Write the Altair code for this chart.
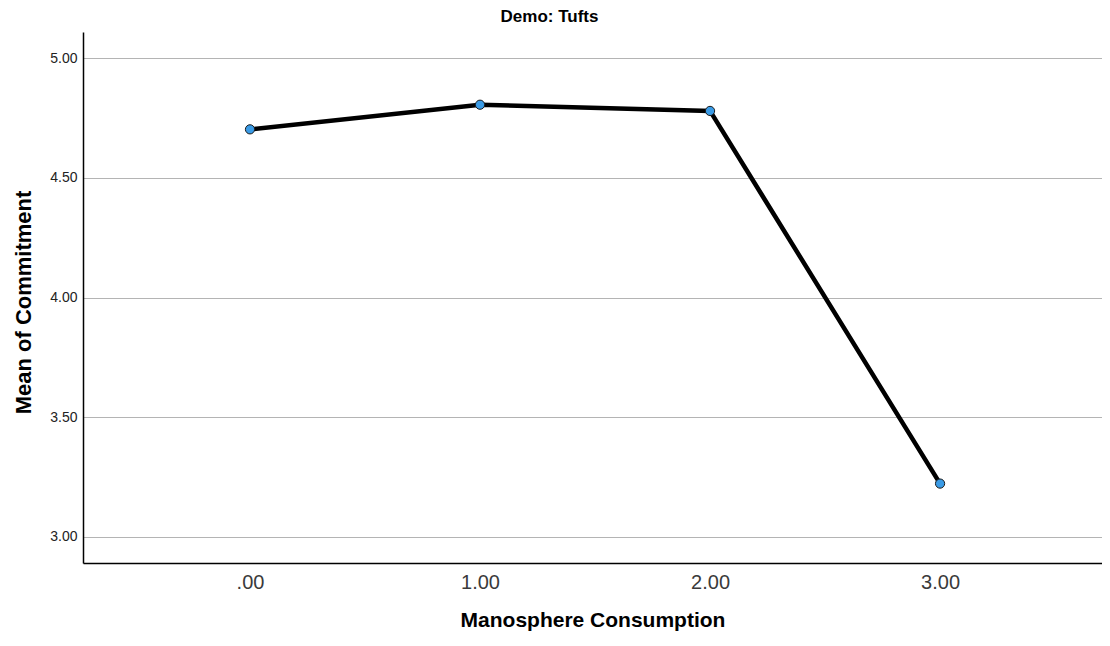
import altair as alt
import pandas as pd

x_vals = [0, 1, 2, 3]
means = [4.703, 4.806, 4.780, 3.222]
x_ticks = [0, 1, 2, 3]
y_ticks = [3.0, 3.5, 4.0, 4.5, 5.0]

df = pd.DataFrame({"Manosphere Consumption": x_vals, "Mean of Commitment": means})

FONT = "Liberation Sans"

x_enc = alt.X(
    "Manosphere Consumption:Q",
    scale=alt.Scale(domain=[-0.726, 3.704], nice=False, zero=False),
    axis=alt.Axis(
        values=x_ticks,
        labelExpr="datum.value == 0 ? '.00' : format(datum.value, '.2f')",
        grid=False, ticks=False, domain=True, domainColor="#000000", domainWidth=1.5,
        labelFont=FONT, labelFontSize=20, labelColor="#3a3a3a", labelPadding=9,
        title="Manosphere Consumption", titleFont=FONT, titleFontSize=21,
        titleFontWeight="bold", titleColor="#000000", titlePadding=17,
    ),
)
y_enc = alt.Y(
    "Mean of Commitment:Q",
    scale=alt.Scale(domain=[2.89, 5.11], nice=False, zero=False),
    axis=alt.Axis(
        values=y_ticks, format=".2f",
        grid=True, gridColor="#b4b4b4", gridWidth=1,
        ticks=False, domain=True, domainColor="#000000", domainWidth=1.5,
        labelFont=FONT, labelFontSize=14, labelColor="#222222", labelPadding=6,
        title="Mean of Commitment", titleFont=FONT, titleFontSize=22,
        titleFontWeight="bold", titleColor="#000000", titlePadding=14,
        titleY=270,
    ),
)

line = alt.Chart(df).mark_line(color="#000000", strokeWidth=4.5).encode(x=x_enc, y=y_enc)
pts = alt.Chart(df).mark_point(
    filled=True, size=85, fill="#3a9be6", stroke="#1a1a1a", strokeWidth=1, opacity=1
).encode(x="Manosphere Consumption:Q", y="Mean of Commitment:Q")

chart = (
    alt.layer(line, pts)
    .properties(
        width=1019, height=531,
        title=alt.TitleParams(
            "Demo: Tufts", font=FONT, fontSize=17, fontWeight="bold", color="#000000",
            anchor="middle", frame="group", dx=-43, offset=6,
        ),
        autosize=alt.AutoSizeParams(type="none"),
        padding={"left": 75, "top": 24, "right": 0, "bottom": 75},
    )
    .configure(background="#ffffff")
    .configure_view(strokeWidth=0, stroke="transparent")
)

chart.save("out.html", embed_options={"renderer": "svg", "actions": False})
